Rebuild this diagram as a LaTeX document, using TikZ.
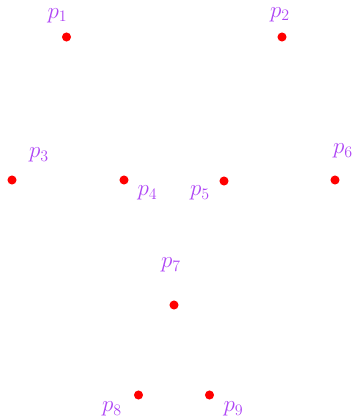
\documentclass[tikz,border=0pt]{standalone}
\usepackage{amsmath,amssymb}
\usetikzlibrary{positioning}
\definecolor{lblpurple}{RGB}{175,70,245}

\begin{document}
\begin{tikzpicture}[x=0.75pt, y=-0.75pt,
  dot/.style={circle, fill=red, inner sep=0pt, minimum size=6.8pt},
  lbl/.style={text=lblpurple, font=\LARGE, inner sep=0pt}]
\useasboundingbox (0,0) rectangle (354,417);
% points
\node[dot] (d1) at (66.5,37) {};
\node[dot] (d2) at (282,37) {};
\node[dot] (d3) at (12,180) {};
\node[dot] (d4) at (124,180) {};
\node[dot] (d5) at (224,181) {};
\node[dot] (d6) at (335,180) {};
\node[dot] (d7) at (174,305) {};
\node[dot] (d8) at (138.5,395) {};
\node[dot] (d9) at (209.5,395) {};
% labels
\node[lbl] (l1) at (57.5,15.5) {$p_1$};
\node[lbl] (l2) at (280,14.5) {$p_2$};
\node[lbl] (l3) at (39,155) {$p_3$};
\node[lbl] (l4) at (147.5,193) {$p_4$};
\node[lbl] (l5) at (200,193) {$p_5$};
\node[lbl] (l6) at (343,151) {$p_6$};
\node[lbl] (l7) at (171,265) {$p_7$};
\node[lbl] (l8) at (112,409) {$p_8$};
\node[lbl] (l9) at (233.5,409) {$p_9$};
\end{tikzpicture}
\end{document}
